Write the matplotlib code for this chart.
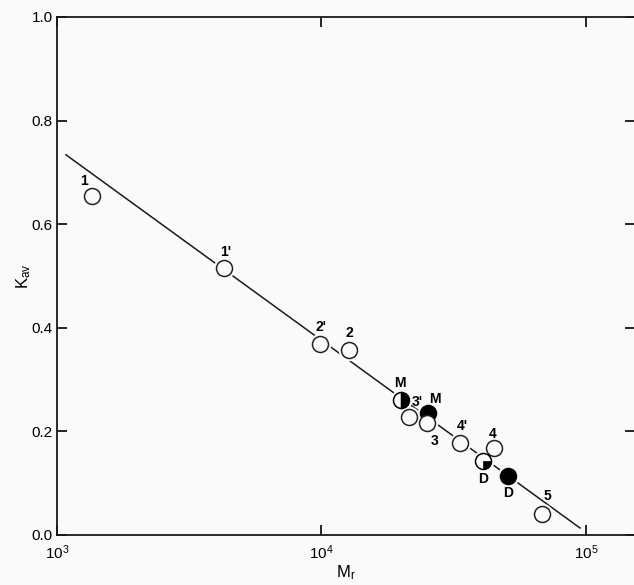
import numpy as np
import matplotlib
matplotlib.use("Agg")
import matplotlib.pyplot as plt
from matplotlib.path import Path

plt.rcParams['font.family'] = ['Liberation Sans', 'DejaVu Sans']
plt.rcParams['mathtext.fontset'] = 'custom'
plt.rcParams['mathtext.rm'] = 'Liberation Sans'
plt.rcParams['mathtext.it'] = 'Liberation Sans'

# open circles (standards)
open_labels = ["1", "1'", "2'", "2", "3'", "3", "4'", "4", "5"]
open_mr = [1355, 4275, 9860, 12700, 21400, 25100, 33400, 44900, 68200]
open_kav = [0.654, 0.515, 0.369, 0.357, 0.228, 0.216, 0.178, 0.168, 0.041]
# label offsets in points
open_off = [(-6, 11), (1, 12), (1, 12), (0, 12), (6, 11), (5, -13), (2, 12), (-1, 10), (4, 13)]

# monomer / dimer
half_mr = [20000]          # M, half filled
half_kav = [0.261]
quart_mr = [40800]         # D, partly filled
quart_kav = [0.143]
full_mr = [25300, 50700]   # M, D filled
full_kav = [0.236, 0.114]
md_labels = ["M", "D", "M", "D"]
md_mr = [20000, 40800, 25300, 50700]
md_kav = [0.261, 0.143, 0.236, 0.114]
md_off = [(-1, 12), (0, -13), (5, 10), (0, -12)]

# calibration line end points
line_mr = [1081, 94900]
line_kav = [0.734, 0.0135]

fig = plt.figure(figsize=(6.34, 5.85), dpi=100, facecolor='#fafafa')
ax = fig.add_axes([57 / 634, 50 / 585, 578 / 634, 518 / 585])
ax.set_facecolor('#fafafa')
ax.set_xscale('log')
ax.set_xlim(1e3, 10 ** (3 + 578 / 264.5))
ax.set_ylim(0, 1.0)

ax.plot(line_mr, line_kav, color='#1a1a1a', lw=1.1, zorder=1)

ms = 11.5
all_mr = open_mr + md_mr
all_kav = open_kav + md_kav
ax.plot(all_mr, all_kav, 'o', ms=ms + 4, mfc='#fafafa', mec='none', zorder=2)

ax.plot(full_mr, full_kav, 'o', ms=ms, mfc='black', mec='black', mew=1.1, zorder=3)
ax.plot(open_mr, open_kav, 'o', ms=ms, mfc='#fafafa', mec='#222222', mew=1.1, zorder=4)
ax.plot(half_mr, half_kav, 'o', ms=ms, fillstyle='right', mfc='black',
        mfcalt='#fafafa', mec='black', mew=1.1, zorder=5)
ax.plot(quart_mr, quart_kav, 'o', ms=ms, mfc='#fafafa', mec='black', mew=1.1, zorder=5)
wedge = Path.wedge(-90, 0)
ax.plot(quart_mr, quart_kav, marker=wedge, ms=ms, mfc='black', mec='black',
        mew=0.5, ls='none', zorder=6)

for lab, x, y, off in zip(open_labels, open_mr, open_kav, open_off):
    ax.annotate(lab, (x, y), xytext=off, textcoords='offset points',
                ha='center', va='center', fontsize=10, fontweight='bold', zorder=7)
for lab, x, y, off in zip(md_labels, md_mr, md_kav, md_off):
    ax.annotate(lab, (x, y), xytext=off, textcoords='offset points',
                ha='center', va='center', fontsize=10, fontweight='bold', zorder=7)

for s in ax.spines.values():
    s.set_linewidth(1.3)
    s.set_color('#1a1a1a')

ax.set_xticks([1e3, 1e4, 1e5])
ax.set_xticklabels([r'$\mathregular{10^{3}}$', r'$\mathregular{10^{4}}$', r'$\mathregular{10^{5}}$'])
ax.xaxis.set_minor_locator(matplotlib.ticker.NullLocator())
ax.set_yticks([0.0, 0.2, 0.4, 0.6, 0.8, 1.0])
ax.set_yticklabels(['0.0', '0.2', '0.4', '0.6', '0.8', '1.0'])
ax.tick_params(which='both', direction='in', length=7, width=1.2,
               top=True, right=True, labelsize=11)
ax.tick_params(axis='x', pad=6)
ax.tick_params(axis='y', pad=3)
ax.get_xticklabels()[0].set_x(1e3)

ax.set_xlabel(r'$\mathregular{M_r}$', fontsize=12, labelpad=1)
ax.set_ylabel(r'$\mathregular{K_{av}}$', fontsize=12, labelpad=-1)

fig.savefig('out.png', dpi=100, facecolor=fig.get_facecolor())
